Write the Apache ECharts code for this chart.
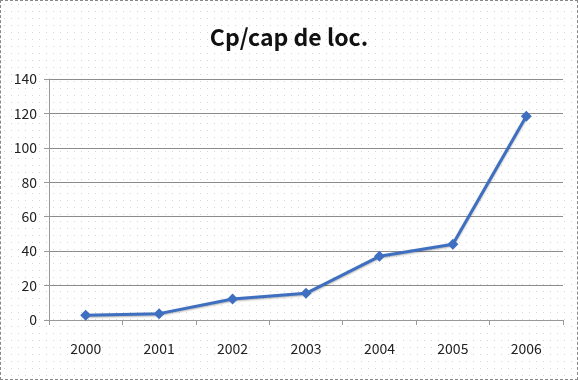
<!DOCTYPE html>
<html><head><meta charset="utf-8">
<script src="https://cdn.jsdelivr.net/npm/echarts@6/dist/echarts.min.js"></script>
<style>
html,body{margin:0;padding:0;background:#fff;}
#c{position:absolute;left:0;top:0;width:576px;height:378px;border:1px dashed #888;
background-color:#fff;
background-image:radial-gradient(circle,#d6d6d6 0.7px,transparent 0.9px);
background-size:7px 7px;}
</style></head><body>
<div id="c"></div>
<script>
const years = ['2000','2001','2002','2003','2004','2005','2006'];
const values = [2.7, 3.7, 12.2, 15.5, 37, 44, 118.3];
const yTicks = {min:0, max:140, interval:20};
const fam = "'Noto Sans CJK SC', 'Open Sans', sans-serif";
const chart = echarts.init(document.getElementById('c'), null, {renderer:'canvas'});
chart.setOption({
  backgroundColor:'transparent',
  title:{text:'Cp/cap de loc.', left:'center', top:20,
    textStyle:{fontFamily:fam, fontSize:23, fontWeight:'bold', color:'#111'}},
  grid:{left:48, right:14, top:78, bottom:59},
  xAxis:{type:'category', data:years, boundaryGap:true,
    axisLine:{lineStyle:{color:'#999', width:1}},
    axisTick:{show:true, length:5, lineStyle:{color:'#999'}},
    axisLabel:{color:'#222', fontSize:14, fontFamily:fam, margin:22}},
  yAxis:{type:'value', min:yTicks.min, max:yTicks.max, interval:yTicks.interval,
    axisLine:{show:true, lineStyle:{color:'#999'}},
    axisTick:{show:true, length:5, lineStyle:{color:'#999'}},
    splitLine:{lineStyle:{color:'#8c8c8c', width:1}},
    axisLabel:{color:'#222', fontSize:14, fontFamily:fam, margin:12}},
  series:[{type:'line', data:values, symbol:'diamond', symbolSize:11,
    lineStyle:{color:'#3f6fc0', width:3, shadowColor:'rgba(0,0,0,0.3)', shadowBlur:2, shadowOffsetY:1},
    itemStyle:{color:'#3f6fc0'}, animation:false}]
});
</script></body></html>
